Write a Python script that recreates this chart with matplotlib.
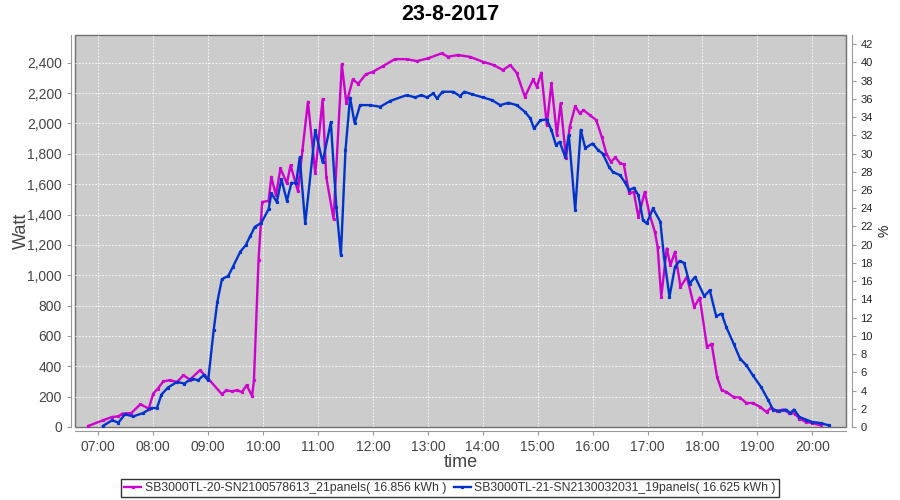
import matplotlib
matplotlib.use("Agg")
import matplotlib.pyplot as plt
from matplotlib.ticker import FuncFormatter

plt.rcParams["font.family"] = ["Liberation Sans", "DejaVu Sans"]

# ---------------- data ----------------
title = "23-8-2017"
label_m = "SB3000TL-20-SN2100578613_21panels( 16.856 kWh )"
label_b = "SB3000TL-21-SN2130032031_19panels( 16.625 kWh )"

times_m = ["06:49", "07:05", "07:15", "07:22", "07:26", "07:36", "07:46", "07:55", "08:00", "08:05",
           "08:11", "08:18", "08:26", "08:33", "08:40", "08:51", "09:00", "09:15", "09:20", "09:26",
           "09:31", "09:37", "09:42", "09:48", "09:50", "09:55", "09:59", "10:06", "10:09", "10:14",
           "10:19", "10:26", "10:30", "10:38", "10:43", "10:49", "10:57", "11:05", "11:09", "11:17",
           "11:26", "11:31", "11:38", "11:44", "11:52", "12:00", "12:11", "12:24", "12:37", "12:48",
           "13:00", "13:15", "13:22", "13:33", "13:46", "14:00", "14:12", "14:22", "14:30", "14:37",
           "14:46", "14:55", "14:59", "15:04", "15:10", "15:15", "15:21", "15:25", "15:31", "15:35",
           "15:41", "15:46", "15:50", "15:57", "16:04", "16:10", "16:15", "16:20", "16:25", "16:30",
           "16:34", "16:40", "16:45", "16:50", "16:57", "17:02", "17:08", "17:11", "17:15", "17:21",
           "17:25", "17:30", "17:36", "17:43", "17:51", "17:57", "18:05", "18:10", "18:16", "18:21",
           "18:26", "18:34", "18:41", "18:48", "18:55", "19:03", "19:10", "19:15", "19:21", "19:28",
           "19:35", "19:41", "19:46", "19:53", "20:00", "20:09"]
watt_m = [7, 44, 66, 70, 88, 92, 150, 121, 220, 253,
          301, 308, 297, 341, 312, 374, 319, 216, 242, 235,
          242, 231, 275, 204, 308, 1099, 1483, 1490, 1648, 1528,
          1704, 1605, 1725, 1554, 1824, 2143, 1671, 2160, 1648, 1370,
          2389, 2132, 2290, 2262, 2323, 2341, 2378, 2424, 2424, 2411,
          2429, 2462, 2440, 2451, 2439, 2407, 2385, 2352, 2385, 2334,
          2176, 2290, 2242, 2334, 1989, 2264, 1923, 2132, 1770, 1978,
          2114, 2066, 2088, 2055, 2022, 1912, 1802, 1747, 1776, 1737,
          1732, 1539, 1549, 1384, 1549, 1407, 1286, 1187, 857, 1176,
          1066, 1154, 923, 989, 791, 853, 527, 548, 330, 242,
          231, 198, 194, 158, 158, 132, 99, 128, 105, 115,
          92, 88, 55, 33, 26, 11]

times_b = ["07:05", "07:15", "07:22", "07:29", "07:38", "07:49", "07:58", "08:04", "08:09", "08:16",
           "08:26", "08:34", "08:42", "08:49", "08:55", "09:00", "09:06", "09:10", "09:15", "09:22",
           "09:27", "09:35", "09:41", "09:46", "09:51", "09:58", "10:06", "10:09", "10:15", "10:20",
           "10:26", "10:31", "10:36", "10:40", "10:46", "10:57", "11:05", "11:14", "11:20", "11:25",
           "11:30", "11:35", "11:40", "11:46", "11:57", "12:08", "12:19", "12:37", "12:46", "12:53",
           "12:59", "13:06", "13:10", "13:16", "13:28", "13:35", "13:40", "13:48", "14:00", "14:10",
           "14:19", "14:28", "14:37", "14:46", "14:52", "14:56", "15:03", "15:10", "15:15", "15:20",
           "15:24", "15:30", "15:34", "15:41", "15:47", "15:52", "16:00", "16:06", "16:11", "16:18",
           "16:22", "16:30", "16:35", "16:40", "16:45", "16:50", "16:55", "16:59", "17:06", "17:14",
           "17:18", "17:24", "17:30", "17:35", "17:40", "17:46", "17:52", "18:02", "18:08", "18:15",
           "18:21", "18:26", "18:34", "18:41", "18:48", "18:55", "19:04", "19:12", "19:17", "19:24",
           "19:31", "19:36", "19:40", "19:46", "19:53", "20:00", "20:09", "20:18"]
watt_b = [7, 44, 29, 84, 70, 92, 125, 125, 214, 260,
          297, 286, 319, 308, 341, 308, 638, 824, 974, 996,
          1055, 1154, 1198, 1259, 1319, 1345, 1435, 1539, 1483, 1633,
          1490, 1609, 1605, 1776, 1341, 1956, 1745, 2008, 1450, 1132,
          1824, 2170, 2002, 2121, 2121, 2110, 2149, 2187, 2172, 2187,
          2172, 2198, 2165, 2209, 2209, 2180, 2209, 2193, 2172, 2154,
          2121, 2136, 2121, 2077, 2033, 1967, 2022, 2026, 1956, 1857,
          1879, 1780, 1923, 1429, 1958, 1838, 1868, 1824, 1802, 1714,
          1681, 1659, 1615, 1561, 1576, 1528, 1363, 1341, 1440, 1352,
          1121, 857, 1055, 1094, 1081, 945, 989, 862, 901, 730,
          747, 659, 550, 451, 407, 341, 264, 176, 115, 105,
          115, 92, 115, 66, 49, 33, 26, 11]

hour_ticks = list(range(7, 21))
watt_ticks = list(range(0, 2401, 200))
pct_ticks = list(range(0, 43, 2))


def to_hours(s):
    h, m = s.split(":")
    return int(h) + int(m) / 60.0


xm = [to_hours(t) for t in times_m]
xb = [to_hours(t) for t in times_b]

# ---------------- figure ----------------
fig = plt.figure(figsize=(9, 5), dpi=100)
ax = fig.add_axes([75 / 900, 73 / 500, 771 / 900, 392 / 500])
ax.set_facecolor("#cccccc")
ax.patch.set_edgecolor("#707070")
ax.patch.set_linewidth(1.0)

c_m = "#cc00cc"
c_b = "#0033cc"
ax.plot(xm, watt_m, color=c_m, lw=1.7, marker="s", ms=1.3, label=label_m, zorder=3)
ax.plot(xb, watt_b, color=c_b, lw=1.7, marker="s", ms=1.3, label=label_b, zorder=4)

ax.set_xlim(6.575, 20.614)
ax.set_ylim(0, 2583)
ax.set_xticks(hour_ticks)
ax.xaxis.set_major_formatter(FuncFormatter(lambda v, p: "%02d:00" % int(round(v))))
ax.set_yticks(watt_ticks)
ax.yaxis.set_major_formatter(FuncFormatter(lambda v, p: "{:,}".format(int(v))))
ax.grid(True, color="white", ls=(0, (2, 2)), lw=0.6)
ax.set_axisbelow(True)

for sp in ["top", "right"]:
    ax.spines[sp].set_visible(False)
for sp in ["left", "bottom"]:
    ax.spines[sp].set_position(("outward", 3))
    ax.spines[sp].set_color("#999999")

tick_col = "#444444"
ax.tick_params(axis="both", colors="#999999", labelcolor=tick_col, labelsize=10,
               length=3, width=0.8)

ax.set_xlabel("time", fontsize=13, color=tick_col, labelpad=0)
ax.set_ylabel("Watt", fontsize=13, color=tick_col)
ax.yaxis.set_label_coords(-0.058, 0.5)

ax2 = ax.twinx()
ax2.set_ylim(0, 43.0)
ax2.set_yticks(pct_ticks)
for sp in ["top", "left", "bottom"]:
    ax2.spines[sp].set_visible(False)
ax2.spines["right"].set_position(("outward", 4))
ax2.spines["right"].set_color("#999999")
ax2.tick_params(axis="y", colors="#999999", labelcolor="#222222", labelsize=8,
                length=3, width=0.8)
ax2.set_ylabel("%", fontsize=10, color="#222222", labelpad=3)

fig.text(0.5, 1 - 14 / 500, title, ha="center", va="center",
         fontsize=15.5, fontweight="bold", color="black")

leg = fig.legend(loc="center", bbox_to_anchor=(0.5, 1 - 488 / 500), ncol=2,
                 fontsize=8.8, frameon=True, fancybox=False, edgecolor="black",
                 handlelength=1.4, handletextpad=0.3, columnspacing=0.6,
                 borderpad=0.25, markerscale=1.0)
leg.get_frame().set_linewidth(1.0)
for t in leg.get_texts():
    t.set_color("#333333")

fig.savefig("out.png", dpi=100)
